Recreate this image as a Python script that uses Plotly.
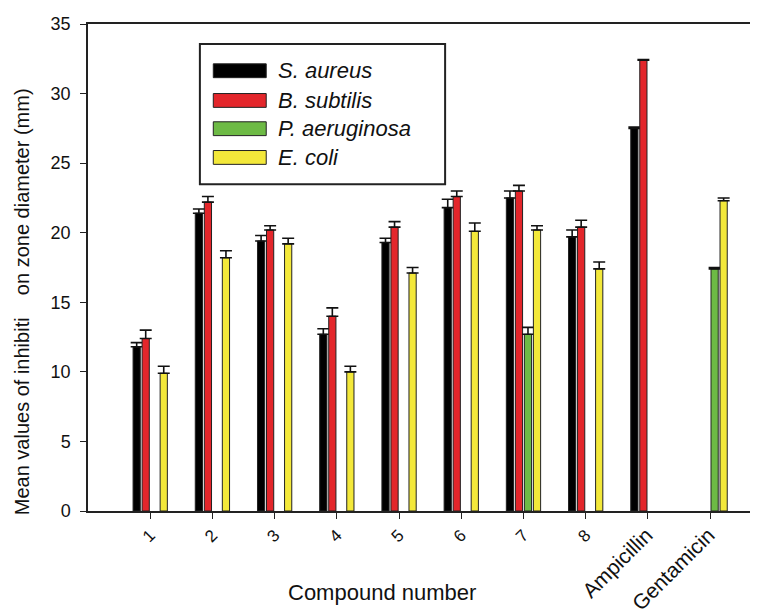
import plotly.graph_objects as go

categories = ["1", "2", "3", "4", "5", "6", "7", "8", "Ampicillin", "Gentamicin"]
series_names = ["S. aureus", "B. subtilis", "P. aeruginosa", "E. coli"]

s_aureus = [11.8, 21.4, 19.4, 12.7, 19.3, 21.8, 22.5, 19.7, 27.5, None]
s_aureus_err = [0.3, 0.3, 0.4, 0.4, 0.3, 0.6, 0.5, 0.5, 0.1, 0]
b_subtilis = [12.4, 22.2, 20.2, 14.0, 20.4, 22.6, 23.0, 20.4, 32.4, None]
b_subtilis_err = [0.6, 0.4, 0.3, 0.6, 0.4, 0.4, 0.4, 0.5, 0.05, 0]
p_aeruginosa = [None, None, None, None, None, None, 12.7, None, None, 17.4]
p_aeruginosa_err = [0, 0, 0, 0, 0, 0, 0.5, 0, 0, 0.1]
e_coli = [9.9, 18.2, 19.2, 10.0, 17.1, 20.1, 20.2, 17.4, None, 22.3]
e_coli_err = [0.5, 0.5, 0.4, 0.4, 0.4, 0.6, 0.3, 0.5, 0, 0.2]

values = [s_aureus, b_subtilis, p_aeruginosa, e_coli]
errors = [s_aureus_err, b_subtilis_err, p_aeruginosa_err, e_coli_err]
colors = ["#000000", "#e3262b", "#6dba45", "#f3e83a"]

fig = go.Figure()
for name, vals, errs, col in zip(series_names, values, errors, colors):
    fig.add_trace(go.Bar(
        x=categories, y=vals, name=name,
        marker=dict(color=col, line=dict(color="#222222", width=1)),
        error_y=dict(type="data", symmetric=False, array=errs,
                     arrayminus=[0] * len(errs), color="#111111",
                     thickness=1.6, width=6),
        showlegend=False,
    ))

# custom legend (wide swatches like the reference)
shapes = [dict(type="rect", xref="paper", yref="paper", x0=0.167, x1=0.533,
               y0=0.671, y1=0.959, line=dict(color="#222222", width=2),
               fillcolor="white", layer="above")]
annotations = []
row_y = [0.904, 0.843, 0.785, 0.726]
for name, col, yy in zip(series_names, colors, row_y):
    shapes.append(dict(type="rect", xref="paper", yref="paper", x0=0.187, x1=0.266,
                       y0=yy - 0.0142, y1=yy + 0.0142,
                       line=dict(color="#222222", width=1), fillcolor=col, layer="above"))
    annotations.append(dict(xref="paper", yref="paper", x=0.281, y=yy, text=f"<i>{name}</i>",
                            showarrow=False, xanchor="left", yanchor="middle",
                            font=dict(size=22, color="#111111")))

annotations.append(dict(xref="paper", yref="paper", x=0.439, y=-0.167,
                        text="Compound number", showarrow=False,
                        xanchor="center", yanchor="middle",
                        font=dict(size=22, color="#111111")))
annotations.append(dict(xref="paper", yref="paper", x=-0.099, y=0.43,
                        text="Mean values of inhibiti\u00a0\u00a0\u00a0\u00a0on zone diameter (mm)",
                        textangle=-90, showarrow=False,
                        xanchor="center", yanchor="middle",
                        font=dict(size=20, color="#111111")))

tick_text = [c if len(c) < 3 else f'<span style="font-size:21px">{c}</span>' for c in categories]

# page body has an 8px margin; the figure is sized so the page fills 758x615
fig.update_layout(
    width=750, height=607,
    margin=dict(l=80, r=0, t=16, b=99),
    paper_bgcolor="white", plot_bgcolor="white",
    barmode="group", bargap=0.42, bargroupgap=0.2,
    font=dict(family="Liberation Sans, Arial, sans-serif", size=17, color="#111111"),
    shapes=shapes, annotations=annotations,
)
fig.update_xaxes(
    type="category", range=[-1, 9.77], showline=True, linecolor="#222222", linewidth=1.5,
    mirror=True, ticks="outside", ticklen=6, tickcolor="#222222", tickangle=-45,
    tickvals=categories, ticktext=tick_text,
    tickfont=dict(size=17), showgrid=False, zeroline=False,
)
fig.update_yaxes(
    range=[0, 35], tickvals=[0, 5, 10, 15, 20, 25, 30, 35],
    showline=True, linecolor="#222222", linewidth=1.5, ticks="outside", ticklen=6,
    tickcolor="#222222", tickfont=dict(size=18), ticklabelstandoff=6,
    showgrid=False, zeroline=False,
)

fig.write_html("out.html")
